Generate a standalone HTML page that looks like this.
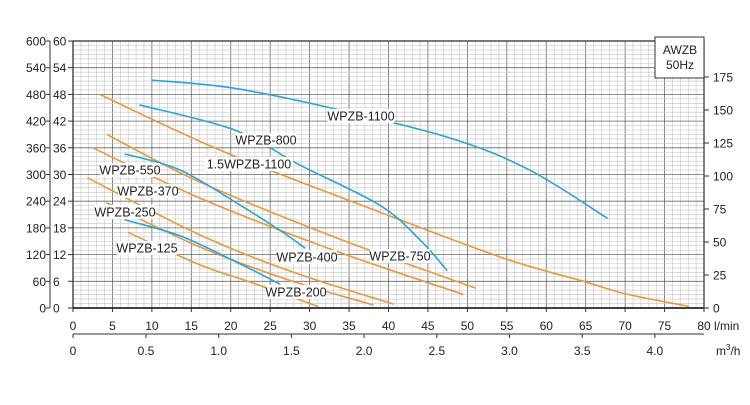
<!DOCTYPE html>
<html><head><meta charset="utf-8"><style>
body{margin:0;background:#fff}
svg text{font-family:"Liberation Sans",sans-serif;fill:#222}
</style></head><body>
<svg id="c" width="750" height="400" viewBox="0 0 750 400">
<rect width="750" height="400" fill="#fff"/>
<g id="grid"></g>
<g id="axes"></g>
<g id="series"></g>
<g id="labels"></g>
<g>
<rect x="655" y="37" width="49" height="41" fill="#fff" stroke="#333" stroke-width="1"/>
<text x="680" y="54" font-size="12" text-anchor="middle">AWZB</text>
<text x="680" y="69" font-size="12" text-anchor="middle">50Hz</text>
</g>
</svg>
<script>
const flowTicks=[0,5,10,15,20,25,30,35,40,45,50,55,60,65,70,75,80];
const headTicks=[0,6,12,18,24,30,36,42,48,54,60];
const kpaTicks=[0,60,120,180,240,300,360,420,480,540,600];
const ftTicks=[0,25,50,75,100,125,150,175];
const m3Ticks=["0","0.5","1.0","1.5","2.0","2.5","3.0","3.5","4.0"];
const orangeA=[[3.4,48],[18.6,35.5],[36,23.5],[54.1,11.5],[65.1,5.8],[70,3.2],[78,0.4]];
const orangeB=[[4.4,38.9],[16.1,28.3],[33.8,15.5],[51,4.5]];
const orangeC=[[2.5,36],[16.1,24.7],[33,13],[49.4,3.1]];
const orangeD=[[1.9,29.2],[16.1,16.4],[28,8],[40.6,0.9]];
const orangeE=[[4.3,23.6],[16.1,13.7],[27,6.5],[38,0.7]];
const orangeF=[[7.1,16.9],[16.1,9.7],[23,5.5],[31,0.4]];
const blue1100=[[10,51.2],[20,49.5],[32.6,45],[47.8,38.2],[57.9,31],[67.7,20.2]];
const blue800=[[8.5,45.6],[20.5,40],[28.8,32.1],[38.9,23.1],[44,15.3],[47.4,8.5]];
const blue400=[[6.6,34.6],[13.6,31],[21.2,23.1],[26.2,17.5],[29.4,13.5]];
const blue200=[[6.6,19.8],[13.6,16.2],[21.2,9.9],[26.2,5.4]];
const X0=73,X1=704,Y0=308,Y1=41;
const xs=v=>X0+(v/80)*(X1-X0);
const ys=v=>Y0-(v/60)*(Y0-Y1);
const yft=v=>Y0-(v/175)*(Y0-77);
const NS="http://www.w3.org/2000/svg";
function mk(p,t,a){const e=document.createElementNS(NS,t);for(const k in a)e.setAttribute(k,a[k]);p.appendChild(e);return e;}
const G=document.getElementById('grid'),A=document.getElementById('axes'),S=document.getElementById('series'),L=document.getElementById('labels');
for(let i=0;i<=80;i++){const major=i%5==0;const l=mk(G,'line',{x1:xs(i),x2:xs(i),y1:Y1,y2:Y0,stroke:major?'#666':'#c4c4c4','stroke-width':major?0.8:0.6});

}
for(let i=0;i<=60;i++){const major=i%6==0;const l=mk(G,'line',{x1:X0,x2:X1,y1:ys(i),y2:ys(i),stroke:major?'#666':'#c4c4c4','stroke-width':major?0.8:0.6});

}
mk(A,'rect',{x:X0,y:Y1,width:X1-X0,height:Y0-Y1,fill:'none',stroke:'#222','stroke-width':1.2});
mk(A,'line',{x1:X0,x2:X1,y1:Y0,y2:Y0,stroke:'#111','stroke-width':1.5});
mk(A,'line',{x1:50,x2:50,y1:Y1,y2:Y0,stroke:'#333','stroke-width':1});
mk(A,'line',{x1:X1,x2:X1,y1:72,y2:Y0,stroke:'#333','stroke-width':1});
headTicks.forEach(v=>{mk(A,'line',{x1:68,x2:X0,y1:ys(v),y2:ys(v),stroke:'#333'});
const t=mk(A,'text',{x:53,y:ys(v)+4.5,'font-size':12});t.textContent=v;

});
kpaTicks.forEach(v=>{mk(A,'line',{x1:46,x2:50,y1:ys(v/10),y2:ys(v/10),stroke:'#333'});
const t=mk(A,'text',{x:46,y:ys(v/10)+4.5,'font-size':12,'text-anchor':'end'});t.textContent=v;

});
ftTicks.forEach(v=>{mk(A,'line',{x1:X1,x2:X1+5,y1:yft(v),y2:yft(v),stroke:'#333'});
const t=mk(A,'text',{x:713,y:yft(v)+4.5,'font-size':12});t.textContent=v;

});
flowTicks.forEach(v=>{mk(A,'line',{x1:xs(v),x2:xs(v),y1:Y0,y2:Y0+4,stroke:'#333'});
const t=mk(A,'text',{x:xs(v),y:330,'font-size':12,'text-anchor':'middle'});t.textContent=v;

});
let u=mk(A,'text',{x:714,y:330,'font-size':12});u.textContent='l/min';
mk(A,'line',{x1:X0,x2:X1,y1:334,y2:334,stroke:'#333'});
m3Ticks.forEach((v,i)=>{const x=i==0?X0:146+(i-1)*72.7;mk(A,'line',{x1:x,x2:x,y1:334,y2:338,stroke:'#333'});
const t=mk(A,'text',{x:x,y:355,'font-size':12,'text-anchor':'middle'});t.textContent=v;

});
u=mk(A,'text',{x:716,y:355,'font-size':12});u.innerHTML='m<tspan dy="-5" font-size="8">3</tspan><tspan dy="5">/h</tspan>';
function smooth(pts){let d='M'+pts[0][0]+','+pts[0][1];
for(let i=0;i<pts.length-1;i++){const p0=pts[Math.max(0,i-1)],p1=pts[i],p2=pts[i+1],p3=pts[Math.min(pts.length-1,i+2)];
const c1=[p1[0]+(p2[0]-p0[0])/6,p1[1]+(p2[1]-p0[1])/6],c2=[p2[0]-(p3[0]-p1[0])/6,p2[1]-(p3[1]-p1[1])/6];
d+=' C'+c1[0]+','+c1[1]+' '+c2[0]+','+c2[1]+' '+p2[0]+','+p2[1];}return d;}
function draw(d,c,n){const p=mk(S,'path',{d:smooth(d.map(q=>[xs(q[0]),ys(q[1])])),fill:'none',stroke:c,'stroke-width':1.6,'stroke-linecap':'round'});

}
const OR='#e8993a',BL='#2aa4d8';
draw(orangeA,OR,'curve-1-5wpzb-1100');draw(orangeB,OR,'curve-wpzb-750');draw(orangeC,OR,'curve-wpzb-550');
draw(orangeD,OR,'curve-wpzb-370');draw(orangeE,OR,'curve-wpzb-250');draw(orangeF,OR,'curve-wpzb-125');
draw(blue1100,BL,'curve-wpzb-1100');draw(blue800,BL,'curve-wpzb-800');draw(blue400,BL,'curve-wpzb-400');draw(blue200,BL,'curve-wpzb-200');
const labs=[["WPZB-1100",361,116],["WPZB-800",266,140],["1.5WPZB-1100",249,164],["WPZB-550",130,170],["WPZB-370",148,191],["WPZB-250",125,212],["WPZB-125",147,248],["WPZB-400",307,257],["WPZB-750",400,256],["WPZB-200",296,292]];
labs.forEach(l=>{const w=l[0].length*7.2;mk(L,'rect',{x:l[1]-w/2-1,y:l[2]-7,width:w+2,height:14,fill:'#fff'});
const t=mk(L,'text',{x:l[1],y:l[2]+4.5,'font-size':12.5,'text-anchor':'middle'});t.textContent=l[0];

});
</script>
</body></html>
